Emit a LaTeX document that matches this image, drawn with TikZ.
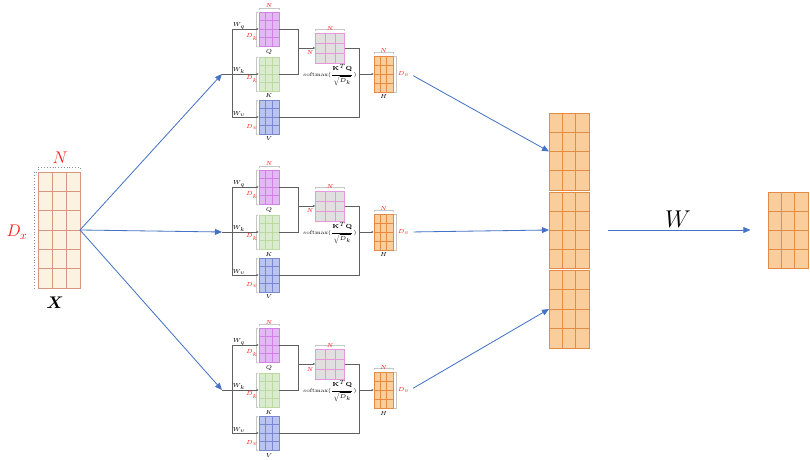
\documentclass[tikz,border=0pt]{standalone}
\usepackage{amssymb}
\usepackage{amsmath}
\usepackage{bm}
\usepackage{tikz}
\usepackage{xcolor}
\usetikzlibrary{arrows.meta,calc}
\definecolor{xfill}{RGB}{251,242,226}
\definecolor{xline}{RGB}{214,150,130}
\definecolor{qfill}{RGB}{226,186,242}
\definecolor{qline}{RGB}{210,130,230}
\definecolor{kfill}{RGB}{218,236,205}
\definecolor{kline}{RGB}{186,218,162}
\definecolor{vfill}{RGB}{186,196,236}
\definecolor{vline}{RGB}{120,136,210}
\definecolor{afill}{RGB}{224,224,224}
\definecolor{aline}{RGB}{234,150,222}
\definecolor{hfill}{RGB}{250,206,156}
\definecolor{hline}{RGB}{226,140,70}
\definecolor{flowblue}{RGB}{68,114,196}
\definecolor{dimred}{RGB}{255,20,20}
\definecolor{wiregray}{RGB}{96,96,96}

\tikzset{
	cells/.style n args={3}{path picture={
		\foreach \k in {1,...,#1}
			\draw[#3,line width=0.5pt] ($(path picture bounding box.north west)!\k/#1!(path picture bounding box.north east)$) -- ($(path picture bounding box.south west)!\k/#1!(path picture bounding box.south east)$);
		\foreach \k in {1,...,#2}
			\draw[#3,line width=0.5pt] ($(path picture bounding box.north west)!\k/#2!(path picture bounding box.south west)$) -- ($(path picture bounding box.north east)!\k/#2!(path picture bounding box.south east)$);
	}},
	matbox/.style={inner sep=0pt, outer sep=0pt, line width=0.5pt},
	qkv/.style={matbox, minimum width=0.6cm, minimum height=1.02cm},
	lbl/.style={font=\fontsize{5.5}{6.5}\selectfont, inner sep=0.5pt},
	redlbl/.style={lbl, text=dimred},
	wire/.style={draw=wiregray, line width=0.6pt},
	tip/.style={wire, -{Latex[length=2pt,width=1.8pt]}},
	dim/.style={draw=black!22, line width=0.4pt},
	flow/.style={draw=flowblue, line width=0.7pt, -{Triangle[length=6pt,width=5pt]}}
}

\begin{document}
\begin{tikzpicture}[x=0.03cm, y=-0.03cm]
	\useasboundingbox (0,0) rectangle (810,460);

	%input
	\node[matbox, fill=xfill, draw=xline, minimum width=1.26cm, minimum height=3.48cm, cells={3}{6}{xline}] (X) at (59,230) {};
	\draw[dim, draw=black!45, dotted, line width=0.6pt] ([yshift=2pt]X.north west) -- ++(0,2pt) -- ([yshift=4pt]X.north east) -- ++(0,-2pt);
	\draw[dim, draw=black!45, dotted, line width=0.6pt] ([xshift=-1.5pt]X.north west) -- ++(-2pt,0) -- ([xshift=-3.5pt]X.south west) -- ++(2pt,0);
		\node[text=dimred, font=\fontsize{14}{16}\selectfont] (nx) at (60,158) {$N$};
		\node[text=dimred, font=\fontsize{14}{16}\selectfont] (dx) at (17,232) {$D_x$};
		\node[font=\fontsize{15}{17}\selectfont] (xl) at (55,303) {$\bm{X}$};

	%heads
	\foreach \h/\dy in {1/0,2/158,3/316}{
	\begin{scope}[shift={(0,\dy)}]
		\coordinate (in\h) at (222,74);
		\coordinate (sp\h) at (232,74);
		\coordinate (mq\h) at (298,48);
		\coordinate (mv\h) at (359,74);

		\node[qkv, fill=qfill, draw=qline, cells={3}{4}{qline}] (Q\h) at (269,29) {};
		\node[qkv, fill=kfill, draw=kline, cells={3}{4}{kline}] (K\h) at (269,74) {};
		\node[qkv, fill=vfill, draw=vline, cells={3}{4}{vline}] (V\h) at (269,117) {};
		\node[matbox, fill=afill, draw=aline, minimum width=0.87cm, minimum height=0.9cm, cells={3}{3}{aline}] (A\h) at (330,48) {};
		\node[matbox, fill=hfill, draw=hline, minimum width=0.57cm, minimum height=1.08cm, cells={3}{4}{hline}] (H\h) at (383.5,74) {};

		%brackets
		\draw[dim] ([yshift=1.5pt]Q\h.north west) -- ++(0,1.5pt) -- ([yshift=3pt]Q\h.north east) -- ++(0,-1.5pt);
		\draw[dim] ([yshift=1.5pt]A\h.north west) -- ++(0,1.5pt) -- ([yshift=3pt]A\h.north east) -- ++(0,-1.5pt);
		\draw[dim] ([yshift=1.5pt]H\h.north west) -- ++(0,1.5pt) -- ([yshift=3pt]H\h.north east) -- ++(0,-1.5pt);
		\foreach \m in {Q,K,V}
			\draw[dim] ([xshift=-1pt]\m\h.north west) -- ++(-1.2pt,0) -- ([xshift=-2.2pt]\m\h.south west) -- ++(1.2pt,0);
		\draw[dim] ([xshift=1.2pt]H\h.north east) -- ++(1.2pt,0) -- ([xshift=2.4pt]H\h.south east) -- ++(-1.2pt,0);

		%labels
		\node[lbl, anchor=south] at (239,30) {$W_q$};
		\node[lbl, anchor=south] at (239,74) {$W_k$};
		\node[lbl, anchor=south] at (239,117) {$W_v$};
		\node[redlbl] at (269,6) {$N$};
		\node[redlbl] at (252,37) {$D_k$};
		\node[redlbl] at (252,79) {$D_k$};
		\node[redlbl] at (252,127) {$D_v$};
		\node[lbl] at (269,52) {$Q$};
		\node[lbl] at (269,96) {$K$};
		\node[lbl] at (269,139) {$V$};
		\node[redlbl] at (330,29) {$N$};
		\node[redlbl] at (310,53) {$N$};
		\node[lbl, font=\fontsize{4.5}{5}\selectfont] at (330,75) {softmax($\dfrac{\mathbf{K}^T\mathbf{Q}}{\sqrt{D_k}}$)};
		\node[redlbl] at (383.5,51) {$N$};
		\node[redlbl, anchor=west] (dv\h) at (397,74) {$D_v$};
		\node[lbl] at (383.5,97) {$H$};

		%wires
		\draw[tip] (in\h) -- (K\h.west);
		\draw[wire] (V\h.west -| sp\h) -- (Q\h.west -| sp\h);
		\draw[tip] (Q\h.west -| sp\h) -- (Q\h.west);
		\draw[tip] (V\h.west -| sp\h) -- (V\h.west);
		\draw[wire] (Q\h.east) -- (Q\h.east -| mq\h) -- (K\h.east -| mq\h) -- (K\h.east);
		\draw[tip] (mq\h) -- (A\h.west);
		\draw[wire] (A\h.east) -- (A\h.east -| mv\h) -- (V\h.east -| mv\h) -- (V\h.east);
		\draw[tip] (mv\h) -- (H\h.west);
	\end{scope}
	}

	%concat and output
	\node[matbox, fill=hfill, draw=hline, minimum width=1.2cm, minimum height=2.31cm, cells={3}{4}{hline}] (C1) at (569,151.5) {};
	\node[matbox, fill=hfill, draw=hline, minimum width=1.2cm, minimum height=2.28cm, cells={3}{4}{hline}] (C2) at (569,230) {};
	\node[matbox, fill=hfill, draw=hline, minimum width=1.2cm, minimum height=2.34cm, cells={3}{4}{hline}] (C3) at (569,309) {};
	\node[matbox, fill=hfill, draw=hline, minimum width=1.2cm, minimum height=2.28cm, cells={3}{4}{hline}] (O) at (788,230) {};
		\node[font=\fontsize{21}{24}\selectfont] (wl) at (678,219) {$W$};

	%arrows
	\foreach \h in {1,2,3}
		\draw[flow] (X.east) -- (in\h);
	\foreach \h in {1,2,3}
		\draw[flow, shorten <=3pt] (dv\h.east) -- (C\h.west);
	\draw[flow, shorten <=16pt, shorten >=15pt] (C2.east) -- (O.west);
\end{tikzpicture}
\end{document}
